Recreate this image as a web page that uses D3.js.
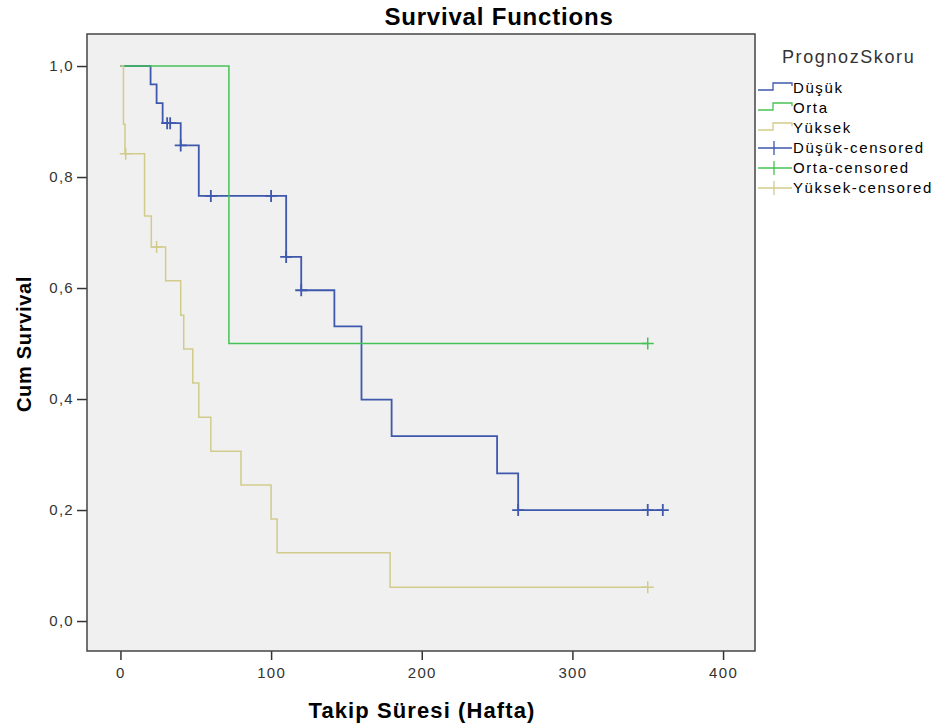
<!DOCTYPE html>
<html>
<head>
<meta charset="utf-8">
<script src="https://cdn.jsdelivr.net/npm/d3@7"></script>
<style>
  body { margin: 0; background: #fff; }
  svg { font-family: "Liberation Sans", Arial, sans-serif; }
</style>
</head>
<body>
<div class="container"></div>
<script>
// tick labels
var xTicks = [0, 100, 200, 300, 400];
var yTicks = [0, 0.2, 0.4, 0.6, 0.8, 1.0];

var groups = ["Düşük", "Orta", "Yüksek"];
var colors = ["#3e58ac", "#45c255", "#d1cb8c"];

// Kaplan-Meier steps
var dusukTime = [0, 20, 24, 28, 40, 52, 110, 120, 142, 160, 180, 250, 264, 360];
var dusukSurv = [1, 0.967, 0.933, 0.897, 0.857, 0.766, 0.656, 0.596, 0.531, 0.399, 0.333, 0.266, 0.2, 0.2];
var dusukCensTime = [31, 33, 40, 60, 100, 110, 120, 264, 350, 360];
var dusukCensSurv = [0.897, 0.897, 0.857, 0.766, 0.766, 0.656, 0.596, 0.2, 0.2, 0.2];

var ortaTime = [0, 72, 350];
var ortaSurv = [1, 0.5, 0.5];
var ortaCensTime = [350];
var ortaCensSurv = [0.5];

var yuksekTime = [0, 2, 3, 16, 20.5, 30, 40, 42, 48, 52, 60, 80, 100, 104, 179, 350];
var yuksekSurv = [1, 0.895, 0.842, 0.730, 0.674, 0.613, 0.551, 0.490, 0.429, 0.367, 0.306, 0.245, 0.184, 0.123, 0.061, 0.061];
var yuksekCensTime = [3.5, 24, 350];
var yuksekCensSurv = [0.842, 0.674, 0.061];

const WIDTH = 942;
const HEIGHT = 728;
const BOX = {left: 87, right: 755, top: 34, bottom: 651};

var series = [
  {name: groups[0], color: colors[0], w: 1.8, t: dusukTime, s: dusukSurv, ct: dusukCensTime, cs: dusukCensSurv},
  {name: groups[1], color: colors[1], w: 1.5, t: ortaTime, s: ortaSurv, ct: ortaCensTime, cs: ortaCensSurv},
  {name: groups[2], color: colors[2], w: 1.5, t: yuksekTime, s: yuksekSurv, ct: yuksekCensTime, cs: yuksekCensSurv}
];

var svg = d3.select('.container').append('svg')
  .attr('width', WIDTH)
  .attr('height', HEIGHT);

var xScale = d3.scaleLinear()
  .domain([-22.2, 421.2])
  .range([BOX.left, BOX.right]);

var yScale = d3.scaleLinear()
  .domain([-0.054, 1.0577])
  .range([BOX.bottom, BOX.top]);

var comma = function (d) { return d3.format(".1f")(d).replace(".", ","); };

// plot background
svg.append('rect')
  .attr('x', BOX.left).attr('y', BOX.top)
  .attr('width', BOX.right - BOX.left)
  .attr('height', BOX.bottom - BOX.top)
  .attr('fill', '#f0f0f0');

var xAxis = d3.axisBottom(xScale).tickValues(xTicks).tickSize(9).tickPadding(7);
var yAxis = d3.axisLeft(yScale).tickValues(yTicks).tickFormat(comma).tickSize(10).tickPadding(3);

var gx = svg.append('g')
  .attr('transform', 'translate(0,' + BOX.bottom + ')')
  .call(xAxis);
var gy = svg.append('g')
  .attr('transform', 'translate(' + BOX.left + ',0)')
  .call(yAxis);

[gx, gy].forEach(function (g) {
  g.select('.domain').remove();
  g.selectAll('.tick line').attr('stroke', '#333').attr('stroke-width', 1.5);
  g.selectAll('.tick text')
    .attr('fill', '#333')
    .style('font-size', '15px')
    .style('letter-spacing', '1.3px');
});

var line = d3.line()
  .x(function (d) { return xScale(d[0]); })
  .y(function (d) { return yScale(d[1]); })
  .curve(d3.curveStepAfter);

var plus = 'M-6,0H6M0,-6V6';

series.forEach(function (sr) {
  var pts = sr.t.map(function (t, i) { return [t, sr.s[i]]; });
  svg.append('path')
    .datum(pts)
    .attr('d', line)
    .attr('fill', 'none')
    .attr('stroke', sr.color)
    .attr('stroke-width', sr.w);

  var cens = sr.ct.map(function (t, i) { return [t, sr.cs[i]]; });
  svg.append('g').selectAll('path')
    .data(cens)
    .enter().append('path')
    .attr('d', plus)
    .attr('transform', function (d) { return 'translate(' + xScale(d[0]) + ',' + yScale(d[1]) + ')'; })
    .attr('fill', 'none')
    .attr('stroke', sr.color)
    .attr('stroke-width', sr.w);
});

// frame
svg.append('rect')
  .attr('x', BOX.left).attr('y', BOX.top)
  .attr('width', BOX.right - BOX.left)
  .attr('height', BOX.bottom - BOX.top)
  .attr('fill', 'none')
  .attr('stroke', '#444')
  .attr('stroke-width', 1.5);

// titles
svg.append('text')
  .attr('x', 499).attr('y', 25)
  .attr('text-anchor', 'middle')
  .style('font-size', '24px').style('font-weight', 'bold')
  .style('letter-spacing', '0.8px')
  .text('Survival Functions');

svg.append('text')
  .attr('x', 422).attr('y', 718)
  .attr('text-anchor', 'middle')
  .style('font-size', '22px').style('font-weight', 'bold')
  .style('letter-spacing', '1.1px')
  .text('Takip Süresi (Hafta)');

svg.append('text')
  .attr('transform', 'translate(31,344) rotate(-90)')
  .attr('text-anchor', 'middle')
  .style('font-size', '20px').style('font-weight', 'bold')
  .style('letter-spacing', '0.7px')
  .text('Cum Survival');

// legend
var legend = svg.append('g');
legend.append('text')
  .attr('x', 782).attr('y', 63)
  .attr('fill', '#333')
  .style('font-size', '18px')
  .style('letter-spacing', '1.6px')
  .text('PrognozSkoru');

var legendItems = [];
series.forEach(function (sr) { legendItems.push({label: sr.name, color: sr.color, kind: 'step'}); });
series.forEach(function (sr) { legendItems.push({label: sr.name + '-censored', color: sr.color, kind: 'cens'}); });

var rows = legend.selectAll('g.item')
  .data(legendItems)
  .enter().append('g')
  .attr('class', 'item')
  .attr('transform', function (d, i) { return 'translate(0,' + (88 + i * 20) + ')'; });

rows.append('path')
  .attr('d', function (d) {
    return d.kind === 'step' ? 'M758,2H773V-5H792V-2' : 'M758,0H792M774,-7V7';
  })
  .attr('fill', 'none')
  .attr('stroke', function (d) { return d.color; })
  .attr('stroke-width', 1.3);

rows.append('text')
  .attr('x', 793).attr('y', 5)
  .style('font-size', '15px')
  .style('letter-spacing', '1.6px')
  .text(function (d) { return d.label; });
</script>
</body>
</html>
